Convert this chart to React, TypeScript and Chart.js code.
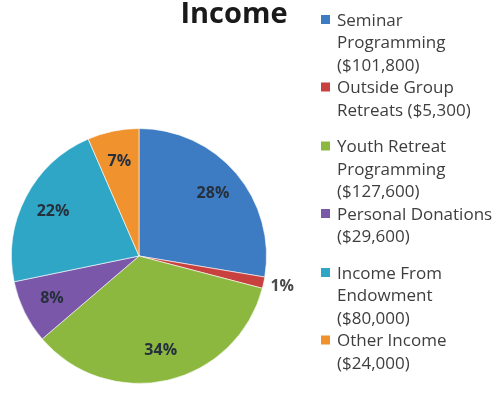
import React, { useEffect, useRef } from "react";
import { Chart, registerables } from "chart.js";

Chart.register(...registerables);

const title = "Income";
const categories = [
  "Seminar Programming",
  "Outside Group Retreats",
  "Youth Retreat Programming",
  "Personal Donations",
  "Income From Endowment",
  "Other Income",
];
const amounts = [101800, 5300, 127600, 29600, 80000, 24000];
const percentLabels = ["28%", "1%", "34%", "8%", "22%", "7%"];
const legendLines = [
  ["Seminar", "Programming", "($101,800)"],
  ["Outside Group", "Retreats ($5,300)"],
  ["Youth Retreat", "Programming", "($127,600)"],
  ["Personal Donations", "($29,600)"],
  ["Income From", "Endowment", "($80,000)"],
  ["Other Income", "($24,000)"],
];
const colors = ["#3D7CC2", "#C8413E", "#8CB840", "#7A57A8", "#2FA6C6", "#F0922E"];

const overlayPlugin = {
  id: "overlay",
  afterDraw(chart: any) {
    const ctx = chart.ctx;
    ctx.save();
    // Title
    ctx.fillStyle = "#1a1a1a";
    ctx.font = "bold 29px 'Open Sans'";
    ctx.textAlign = "center";
    ctx.textBaseline = "alphabetic";
    ctx.fillText(title, 234, 23);

    // Percent labels
    const meta = chart.getDatasetMeta(0);
    meta.data.forEach((arc: any, i: number) => {
      const p = arc.getProps(["x", "y", "startAngle", "endAngle", "outerRadius"], true);
      const mid = (p.startAngle + p.endAngle) / 2;
      const span = p.endAngle - p.startAngle;
      const small = span < 0.2;
      const d = small ? p.outerRadius + 19 : p.outerRadius * 0.76;
      const x = p.x + Math.cos(mid) * d;
      const y = p.y + Math.sin(mid) * d;
      ctx.font = "bold 16px 'Open Sans'";
      ctx.fillStyle = small ? "#4a4a4a" : "#26303c";
      ctx.textAlign = "center";
      ctx.textBaseline = "middle";
      ctx.fillText(percentLabels[i], x, y);
    });

    // Legend
    const lineH = 22.5;
    const groupGap = 14;
    let y = 21;
    ctx.font = "17px 'Open Sans'";
    ctx.textAlign = "left";
    ctx.textBaseline = "middle";
    legendLines.forEach((lines, i) => {
      ctx.fillStyle = colors[i];
      ctx.fillRect(321, y - 6, 9, 9);
      ctx.fillStyle = "#3e3e3e";
      lines.forEach((ln, j) => {
        ctx.fillText(ln, 337, y + j * lineH);
      });
      y += lines.length * lineH;
      if (i % 2 === 1) y += groupGap;
    });
    ctx.restore();
  },
};

export default function App() {
  const ref = useRef<HTMLCanvasElement | null>(null);
  useEffect(() => {
    if (!ref.current) return;
    const chart = new Chart(ref.current, {
      type: "pie",
      data: {
        labels: categories,
        datasets: [
          {
            data: amounts,
            backgroundColor: colors,
            borderColor: "rgba(255,255,255,0.6)",
            borderWidth: 1,
          },
        ],
      },
      options: {
        animation: false,
        responsive: true,
        maintainAspectRatio: false,
        layout: { padding: { left: 11, top: 128, right: 229, bottom: 20 } },
        plugins: {
          legend: { display: false },
          tooltip: { enabled: false },
          title: { display: false },
        },
      },
      plugins: [overlayPlugin],
    });
    return () => chart.destroy();
  }, []);
  return (
    <div style={{ position: "absolute", left: 0, top: 0, width: 496, height: 404, background: "#fff" }}>
      <canvas ref={ref} />
    </div>
  );
}
